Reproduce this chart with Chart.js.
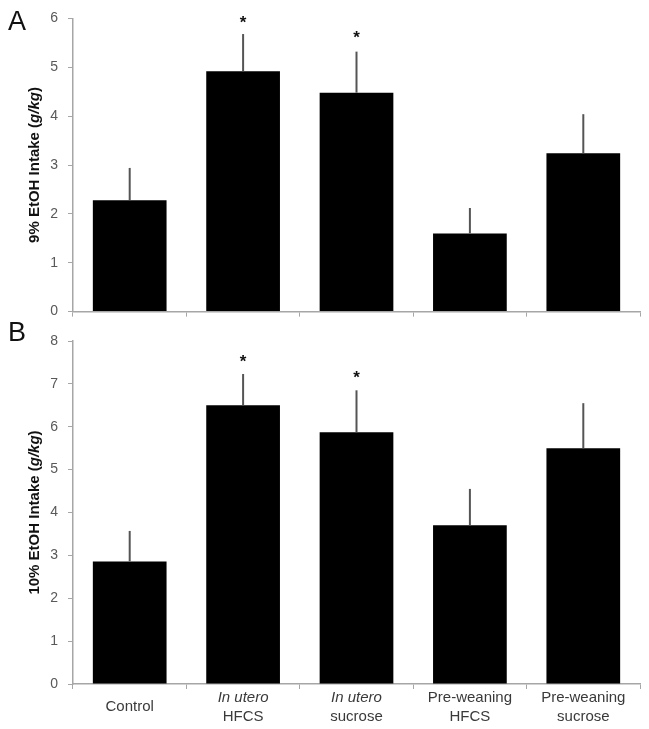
<!DOCTYPE html>
<html>
<head>
<meta charset="utf-8">
<script src="https://cdn.jsdelivr.net/npm/chart.js@4/dist/chart.umd.min.js"></script>
<style>
  body { margin: 0; background: #fff; }
  #wrap { position: relative; width: 649px; height: 729px; font-family: "Liberation Sans", Arial, sans-serif; }
  canvas { position: absolute; left: 0; }
  #chartA { top: 0; }
  #chartB { top: 320px; }
  .panel { position: absolute; left: 8px; font-size: 27px; color: #111; line-height: 1; }
</style>
</head>
<body>
<div id="wrap">
  <canvas id="chartA" width="649" height="330"></canvas>
  <canvas id="chartB" width="649" height="409"></canvas>
  <div class="panel" style="top:8px">A</div>
  <div class="panel" style="top:319px">B</div>
</div>
<script>
'use strict';

const groups = ['Control', 'In utero HFCS', 'In utero sucrose', 'Pre-weaning HFCS', 'Pre-weaning sucrose'];
const labelLine1 = ['Control', 'In utero', 'In utero', 'Pre-weaning', 'Pre-weaning'];
const labelLine2 = ['', 'HFCS', 'sucrose', 'HFCS', 'sucrose'];
const italicLine1 = [false, true, true, false, false];

// panel A, 9% EtOH
const intake9 = [2.28, 4.92, 4.48, 1.60, 3.24];
const intake9Err = [0.66, 0.76, 0.84, 0.52, 0.80];
const star9 = [null, 6.0, 5.7, null, null];
const yMax9 = 6;

// panel B, 10% EtOH
const intake10 = [2.86, 6.50, 5.87, 3.70, 5.50];
const intake10Err = [0.71, 0.73, 0.98, 0.85, 1.05];
const star10 = [null, 7.62, 7.25, null, null];
const yMax10 = 8;

const axisGray = '#a6a6a6';

const extrasPlugin = {
  id: 'extras',
  afterDatasetsDraw(chart, args, opts) {
    const ctx = chart.ctx;
    const x = chart.scales.x;
    const y = chart.scales.y;
    const meta = chart.getDatasetMeta(0);
    ctx.save();
    // error bars, upward only
    ctx.strokeStyle = '#555';
    ctx.lineWidth = 2;
    opts.errs.forEach((e, i) => {
      const bx = meta.data[i].x;
      ctx.beginPath();
      ctx.moveTo(bx, y.getPixelForValue(opts.values[i]));
      ctx.lineTo(bx, y.getPixelForValue(opts.values[i] + e));
      ctx.stroke();
    });
    // significance stars
    ctx.fillStyle = '#111';
    ctx.font = 'bold 17px "Liberation Sans", Arial';
    ctx.textAlign = 'center';
    ctx.textBaseline = 'alphabetic';
    opts.stars.forEach((s, i) => {
      if (s == null) return;
      ctx.fillText('*', meta.data[i].x, y.getPixelForValue(s) + 10);
    });
    // y title with italic unit
    const parts = [
      [opts.title, 'bold 15px "Liberation Sans", Arial'],
      ['g/kg', 'italic bold 15px "Liberation Sans", Arial'],
      [')', 'bold 15px "Liberation Sans", Arial']
    ];
    let total = 0;
    parts.forEach(p => { ctx.font = p[1]; total += ctx.measureText(p[0]).width; });
    ctx.translate(opts.titleX, (chart.chartArea.top + chart.chartArea.bottom) / 2);
    ctx.rotate(-Math.PI / 2);
    ctx.textAlign = 'left';
    ctx.textBaseline = 'middle';
    let pos = -total / 2;
    parts.forEach(p => {
      ctx.font = p[1];
      ctx.fillText(p[0], pos, 0);
      pos += ctx.measureText(p[0]).width;
    });
    ctx.restore();

    // category labels under the bottom panel
    if (opts.showLabels) {
      ctx.save();
      ctx.fillStyle = '#3a3a3a';
      ctx.textAlign = 'center';
      ctx.textBaseline = 'middle';
      const base = x.top;
      labelLine1.forEach((l, i) => {
        const cx = x.getPixelForValue(i);
        if (labelLine2[i]) {
          ctx.font = (italicLine1[i] ? 'italic ' : '') + '15px "Liberation Sans", Arial';
          ctx.fillText(l, cx, base + 14);
          ctx.font = '15px "Liberation Sans", Arial';
          ctx.fillText(labelLine2[i], cx, base + 33);
        } else {
          ctx.font = '15px "Liberation Sans", Arial';
          ctx.fillText(l, cx, base + 23);
        }
      });
      ctx.restore();
    }
  }
};

function makeChart(id, values, errs, stars, yMax, topPad, xHeight, title, showLabels) {
  return new Chart(document.getElementById(id), {
    type: 'bar',
    data: {
      labels: groups,
      datasets: [{
        data: values,
        backgroundColor: '#000',
        borderWidth: 0,
        barPercentage: 0.65,
        categoryPercentage: 1
      }]
    },
    options: {
      responsive: false,
      animation: false,
      events: [],
      layout: { padding: { top: topPad, right: 9, left: 0, bottom: 0 } },
      plugins: {
        legend: { display: false },
        tooltip: { enabled: false },
        extras: { values: values, errs: errs, stars: stars, title: title, titleX: 35, showLabels: showLabels }
      },
      scales: {
        x: {
          grid: { offset: true, drawOnChartArea: false, tickLength: 5, color: axisGray },
          border: { color: axisGray, width: 1.5 },
          ticks: { callback: () => '' },
          afterFit: s => { s.height = xHeight; }
        },
        y: {
          min: 0,
          max: yMax,
          grid: { drawOnChartArea: false, tickLength: 5, color: axisGray },
          border: { color: axisGray, width: 1.5 },
          ticks: {
            stepSize: 1,
            padding: 10,
            color: '#595959',
            font: { family: '"Liberation Sans", Arial', size: 14 }
          },
          afterFit: s => { s.width = 73; }
        }
      }
    },
    plugins: [extrasPlugin]
  });
}

makeChart('chartA', intake9, intake9Err, star9, yMax9, 13, 17, '9% EtOH Intake (', false);
makeChart('chartB', intake10, intake10Err, star10, yMax10, 21, 45, '10% EtOH Intake (', true);
</script>
</body>
</html>
